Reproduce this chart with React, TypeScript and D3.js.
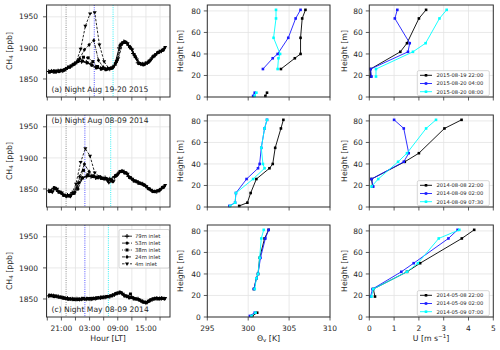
import React from 'react';
import * as d3 from 'd3';

const FONT = 'DejaVu Sans, sans-serif';
const SPINE = '#333333';
const GRID = '#e3e3e3';
const INK = '#262626';

// sampling cycle: hours after 18:00 LT, each inlet lagged within the cycle
const SAMPLE_HOURS = [0.3, 1.3, 2.3, 3.3, 4.3, 5.3, 6.3, 7.3, 8.3, 9.3, 10.3, 11.3, 12.3, 13.3, 14.3, 15.3, 16.3, 17.3, 18.3, 19.3, 20.3, 21.3, 22.3, 23.3, 24.3];
const INLETS = ['79m inlet', '53m inlet', '38m inlet', '24m inlet', '4m inlet'];
const INLET_LAG = [0, 0.2, 0.4, 0.6, 0.8];

// (a) Aug 19-20 2015
const CH4_A_79 = [1862, 1862, 1863, 1863, 1868, 1872, 1877, 1878, 1877, 1874, 1869, 1867, 1866, 1866, 1872, 1900, 1910, 1904, 1891, 1876, 1874, 1876, 1884, 1891, 1895];
const CH4_A_53 = [1861, 1863, 1862, 1864, 1869, 1873, 1878, 1879, 1876, 1872, 1868, 1866, 1865, 1867, 1875, 1904, 1910, 1902, 1889, 1875, 1873, 1877, 1886, 1892, 1896];
const CH4_A_38 = [1862, 1861, 1863, 1865, 1869, 1874, 1880, 1885, 1884, 1878, 1870, 1867, 1866, 1868, 1878, 1906, 1909, 1900, 1886, 1875, 1874, 1879, 1887, 1893, 1897];
const CH4_A_24 = [1863, 1862, 1864, 1866, 1870, 1875, 1883, 1897, 1905, 1912, 1880, 1869, 1867, 1868, 1880, 1907, 1908, 1899, 1884, 1874, 1875, 1880, 1888, 1894, 1899];
const CH4_A_4 = [1862, 1863, 1864, 1867, 1871, 1876, 1898, 1935, 1955, 1957, 1905, 1878, 1867, 1869, 1883, 1908, 1907, 1897, 1881, 1874, 1876, 1881, 1889, 1895, 1901];

// (b) Aug 08-09 2014
const CH4_B_79 = [1847, 1851, 1846, 1841, 1840, 1844, 1853, 1866, 1870, 1870, 1868, 1868, 1868, 1866, 1870, 1877, 1877, 1870, 1864, 1860, 1858, 1852, 1847, 1846, 1851];
const CH4_B_53 = [1846, 1852, 1845, 1840, 1839, 1843, 1850, 1868, 1871, 1871, 1869, 1868, 1867, 1865, 1871, 1878, 1876, 1869, 1863, 1860, 1857, 1851, 1846, 1847, 1852];
const CH4_B_38 = [1847, 1851, 1845, 1840, 1839, 1843, 1860, 1880, 1873, 1870, 1868, 1867, 1866, 1864, 1872, 1878, 1876, 1868, 1863, 1859, 1856, 1850, 1846, 1847, 1853];
const CH4_B_24 = [1846, 1850, 1844, 1839, 1838, 1845, 1870, 1890, 1878, 1871, 1869, 1867, 1863, 1862, 1873, 1879, 1875, 1867, 1862, 1859, 1855, 1849, 1846, 1848, 1854];
const CH4_B_4 = [1845, 1850, 1844, 1838, 1840, 1858, 1893, 1915, 1903, 1876, 1870, 1866, 1860, 1862, 1874, 1879, 1874, 1866, 1862, 1858, 1854, 1848, 1846, 1849, 1856];

// (c) May 08-09 2014
const CH4_C_79 = [1855, 1855, 1854, 1852, 1851, 1850, 1850, 1850, 1850, 1850, 1851, 1852, 1853, 1854, 1857, 1860, 1856, 1853, 1851, 1850, 1846, 1845, 1849, 1851, 1851];
const CH4_C_53 = [1856, 1854, 1853, 1852, 1850, 1850, 1849, 1850, 1851, 1850, 1851, 1853, 1853, 1855, 1858, 1861, 1855, 1852, 1851, 1849, 1845, 1846, 1850, 1851, 1851];
const CH4_C_38 = [1855, 1855, 1853, 1851, 1850, 1849, 1850, 1851, 1850, 1851, 1852, 1852, 1854, 1855, 1859, 1860, 1855, 1858, 1850, 1848, 1845, 1847, 1850, 1850, 1851];
const CH4_C_24 = [1856, 1854, 1853, 1851, 1850, 1850, 1849, 1850, 1850, 1851, 1852, 1853, 1854, 1856, 1859, 1859, 1854, 1853, 1850, 1847, 1844, 1848, 1851, 1851, 1850];
const CH4_C_4 = [1855, 1854, 1852, 1851, 1850, 1849, 1850, 1850, 1851, 1851, 1852, 1853, 1854, 1857, 1860, 1858, 1854, 1852, 1850, 1846, 1844, 1849, 1851, 1851, 1851];

const PANEL_TITLES = ['(a) Night Aug 19-20 2015', '(b) Night Aug 08-09 2014', '(c) Night May 08-09 2014'];
// profile times, hours after 18:00 LT
const PROFILE_HOURS_A = [4, 10, 14];
const PROFILE_HOURS_B = [4, 8, 13.5];
const PROFILE_HOURS_C = [4, 8, 13];
const PROFILE_LABELS_A = ['2015-08-19 22:00', '2015-08-20 04:00', '2015-08-20 08:00'];
const PROFILE_LABELS_B = ['2014-08-08 22:00', '2014-08-09 02:00', '2014-08-09 07:30'];
const PROFILE_LABELS_C = ['2014-05-08 22:00', '2014-05-09 02:00', '2014-05-09 07:00'];

// virtual potential temperature profiles [K]
const THETA_HEIGHTS = [1, 4, 13, 26, 36, 40, 55, 73, 81];
const THETA_A_1 = [302.1, 302.3, null, 304.0, 305.7, 306.4, 306.4, 306.6, 307.0];
const THETA_A_2 = [300.6, 300.8, null, 301.8, 303.0, 303.6, 304.9, 305.8, 306.4];
const THETA_A_3 = [300.8, 301.0, null, 303.6, 303.7, 303.9, 303.1, 303.4, 303.4];
const THETA_B_1 = [298.9, 299.9, 300.3, 301.0, 302.6, 303.0, 303.3, 304.0, 304.3];
const THETA_B_2 = [297.7, 298.4, 298.5, 299.8, 301.2, 301.4, 301.6, 302.0, 302.3];
const THETA_B_3 = [297.8, 298.4, 298.5, 300.6, 302.0, 301.8, 301.6, 302.0, 302.3];
const THETA_C_1 = [300.5, 301.1, null, 300.7, 301.0, 301.2, 301.4, 302.0, 302.5];
const THETA_C_2 = [300.2, 300.8, null, 300.7, 301.0, 301.2, 301.5, 302.1, 302.5];
const THETA_C_3 = [300.4, 300.9, null, 300.8, 301.0, 301.2, 301.4, 301.6, 301.9];

// wind speed profiles [m/s]
const U_HEIGHTS = [19, 26, 42, 50, 73, 81];
const U_A_1 = [0.05, 0.05, 1.25, 1.52, 2.0, 2.29];
const U_A_2 = [0.09, 0.05, 1.56, 1.63, 1.03, 1.13];
const U_A_3 = [0.27, 0.27, 1.76, 2.27, 2.83, 3.12];
const U_B_1 = [0.13, 0.09, 1.43, 2.0, 3.03, 3.72];
const U_B_2 = [0.16, 0.09, 1.39, 1.59, 1.39, 1.0];
const U_B_3 = [0.09, 0.36, 1.16, 1.52, 2.29, 2.69];
const U_C_1 = [0.23, 0.16, 1.52, 2.05, 3.73, 4.23];
const U_C_2 = [0.05, 0.13, 1.29, 1.79, 3.19, 3.56];
const U_C_3 = [0.09, 0.16, 1.52, 1.96, 2.8, 3.63];

const HOUR_TICKS = [0, 3, 6, 9, 12, 15, 18, 21, 24];
const CH4_TICKS = [1850, 1900, 1950];
const HEIGHT_TICKS = [0, 20, 40, 60, 80];
const THETA_TICKS = [295, 300, 305, 310];
const U_TICKS = [0, 1, 2, 3, 4, 5];

const PROFILE_COLORS = ['#000000', '#1a1aff', '#00ffff'];
const MARK_COLORS = ['#8c8c8c', '#5555ff', '#33f0f5'];
const INLET_DASH = ['none', '3,1.5', '1,1.2', '3,1,1,1', '2.5,1.5'];
const INLET_MARK = ['plus', 'circle', 'square', 'diamond', 'tri'];

const ROWS = [
  { top: 5, bottom: 97 },
  { top: 115, bottom: 207 },
  { top: 225, bottom: 317 },
];
const LEFT = { x0: 46.5, x1: 170 };
const MID = { x0: 207.3, x1: 330 };
const RIGHT = { x0: 369.3, x1: 493.3 };

const CH4_ROWS = [
  [CH4_A_79, CH4_A_53, CH4_A_38, CH4_A_24, CH4_A_4],
  [CH4_B_79, CH4_B_53, CH4_B_38, CH4_B_24, CH4_B_4],
  [CH4_C_79, CH4_C_53, CH4_C_38, CH4_C_24, CH4_C_4],
];
const MARK_ROWS = [PROFILE_HOURS_A, PROFILE_HOURS_B, PROFILE_HOURS_C];
const LABEL_ROWS = [PROFILE_LABELS_A, PROFILE_LABELS_B, PROFILE_LABELS_C];
const THETA_ROWS = [
  [THETA_A_1, THETA_A_2, THETA_A_3],
  [THETA_B_1, THETA_B_2, THETA_B_3],
  [THETA_C_1, THETA_C_2, THETA_C_3],
];
const U_ROWS = [
  [U_A_1, U_A_2, U_A_3],
  [U_B_1, U_B_2, U_B_3],
  [U_C_1, U_C_2, U_C_3],
];

const xHour = d3.scaleLinear().domain([-0.17, 26.12]).range([LEFT.x0, LEFT.x1]);
const xTheta = d3.scaleLinear().domain([295, 310]).range([MID.x0, MID.x1]);
const xU = d3.scaleLinear().domain([0, 5]).range([RIGHT.x0, RIGHT.x1]);

function clock(h: number) {
  const v = (18 + h) % 24;
  return (v < 10 ? '0' : '') + v + ':00';
}

function markerPath(kind: string) {
  if (kind === 'plus') return 'M-2.2,0H2.2M0,-2.2V2.2';
  if (kind === 'circle') return 'M1.7,0A1.7,1.7,0,1,1,-1.7,0A1.7,1.7,0,1,1,1.7,0Z';
  if (kind === 'square') return 'M-1.5,-1.5H1.5V1.5H-1.5Z';
  if (kind === 'diamond') return 'M0,-2.1L1.7,0L0,2.1L-1.7,0Z';
  return 'M-2,-1.3L2,-1.3L0,2.1Z';
}

function Marker({ kind, x, y, color }: { kind: string; x: number; y: number; color: string }) {
  const d = markerPath(kind);
  if (kind === 'plus') return <path d={d} transform={`translate(${x},${y})`} stroke={color} strokeWidth={1} fill="none" />;
  return <path d={d} transform={`translate(${x},${y})`} fill={color} />;
}

function YTicks({ x0, scale, ticks, gap }: { x0: number; scale: any; ticks: number[]; gap: number }) {
  return (
    <g>
      {ticks.map((t) => (
        <g key={t}>
          <line x1={x0 - 3.5} x2={x0} y1={scale(t)} y2={scale(t)} stroke={SPINE} strokeWidth={0.8} />
          <text x={x0 - gap} y={scale(t)} dy="0.35em" textAnchor="end" fontSize={7.5} fill={INK}>{t}</text>
        </g>
      ))}
    </g>
  );
}

function XTicks({ row, scale, ticks, labels }: { row: any; scale: any; ticks: number[]; labels: (string | null)[] | null }) {
  return (
    <g>
      {ticks.map((t, i) => (
        <g key={t}>
          <line x1={scale(t)} x2={scale(t)} y1={row.bottom} y2={row.bottom + 3.5} stroke={SPINE} strokeWidth={0.8} />
          {labels && labels[i] != null && (
            <text x={scale(t)} y={row.bottom + 13.5} textAnchor="middle" fontSize={7.5} fill={INK}>{labels[i]}</text>
          )}
        </g>
      ))}
    </g>
  );
}

function Ch4Panel({ r }: { r: number }) {
  const row = ROWS[r];
  const y = d3.scaleLinear().domain([1821, 1969]).range([row.bottom, row.top]);
  const series = CH4_ROWS[r];
  const line = d3.line<[number, number]>().x((d) => xHour(d[0])).y((d) => y(d[1]));
  const last = r === 2;
  const cy = (row.top + row.bottom) / 2;
  return (
    <g>
      {HOUR_TICKS.map((t) => (
        <line key={'gx' + t} x1={xHour(t)} x2={xHour(t)} y1={row.top} y2={row.bottom} stroke={GRID} strokeWidth={0.8} />
      ))}
      {CH4_TICKS.map((t) => (
        <line key={'gy' + t} x1={LEFT.x0} x2={LEFT.x1} y1={y(t)} y2={y(t)} stroke={GRID} strokeWidth={0.8} />
      ))}
      {MARK_ROWS[r].map((h, i) => (
        <line key={'m' + i} x1={xHour(h)} x2={xHour(h)} y1={row.top} y2={row.bottom} stroke={MARK_COLORS[i]} strokeWidth={1} strokeDasharray="1,1.2" />
      ))}
      {series.map((vals, i) => {
        const pts: [number, number][] = vals.map((v, k) => [SAMPLE_HOURS[k] + INLET_LAG[i], v]);
        return (
          <g key={'s' + i}>
            <path d={line(pts) || ''} fill="none" stroke="#000" strokeWidth={0.85} strokeDasharray={INLET_DASH[i]} />
            {pts.map((p, k) => (
              <Marker key={k} kind={INLET_MARK[i]} x={xHour(p[0])} y={y(p[1])} color="#000" />
            ))}
          </g>
        );
      })}
      <text x={51.5} y={r === 1 ? row.top + 8 : row.bottom - 5.5} fontSize={7.6} fill={INK}>{PANEL_TITLES[r]}</text>
      {last && (
        <g>
          <rect x={119} y={229.5} width={50.5} height={38.5} rx={1.5} fill="#fff" fillOpacity={0.85} stroke="#cccccc" strokeWidth={0.8} />
          {INLETS.map((name, i) => {
            const ly = 236.2 + i * 6.9;
            return (
              <g key={name}>
                <line x1={122} x2={132} y1={ly} y2={ly} stroke="#000" strokeWidth={0.8} strokeDasharray={INLET_DASH[i]} />
                <Marker kind={INLET_MARK[i]} x={127} y={ly} color="#000" />
                <text x={135} y={ly} dy="0.35em" fontSize={5.3} fill={INK}>{name}</text>
              </g>
            );
          })}
        </g>
      )}
      <rect x={LEFT.x0} y={row.top} width={LEFT.x1 - LEFT.x0} height={row.bottom - row.top} fill="none" stroke={SPINE} strokeWidth={1} />
      <YTicks x0={LEFT.x0} scale={y} ticks={CH4_TICKS} gap={8.5} />
      <XTicks row={row} scale={xHour} ticks={HOUR_TICKS} labels={last ? HOUR_TICKS.map((h) => (h % 6 === 3 ? clock(h) : null)) : null} />
      <text transform={`translate(11.5,${cy}) rotate(-90)`} textAnchor="middle" fontSize={7.8} fill={INK}>
        CH<tspan fontSize={5.5} dy={1.8}>4</tspan><tspan dy={-1.8}> [ppb]</tspan>
      </text>
    </g>
  );
}

function ProfilePanel({ r, kind }: { r: number; kind: 'theta' | 'u' }) {
  const row = ROWS[r];
  const box = kind === 'theta' ? MID : RIGHT;
  const x = kind === 'theta' ? xTheta : xU;
  const heights = kind === 'theta' ? THETA_HEIGHTS : U_HEIGHTS;
  const series = kind === 'theta' ? THETA_ROWS[r] : U_ROWS[r];
  const ticks = kind === 'theta' ? THETA_TICKS : U_TICKS;
  const y = d3.scaleLinear().domain([0, 85.5]).range([row.bottom, row.top]);
  const line = d3
    .line<number | null>()
    .defined((d) => d != null)
    .x((d) => x(d as number))
    .y((_d, i) => y(heights[i]));
  const last = r === 2;
  const cy = (row.top + row.bottom) / 2;
  const labelX = kind === 'theta' ? 183 : 347;
  const ly0 = row.top + 66;
  return (
    <g>
      {ticks.map((t) => (
        <line key={'gx' + t} x1={x(t)} x2={x(t)} y1={row.top} y2={row.bottom} stroke={GRID} strokeWidth={0.8} />
      ))}
      {HEIGHT_TICKS.map((t) => (
        <line key={'gy' + t} x1={box.x0} x2={box.x1} y1={y(t)} y2={y(t)} stroke={GRID} strokeWidth={0.8} />
      ))}
      {series.map((vals, i) => (
        <g key={i}>
          <path d={line(vals) || ''} fill="none" stroke={PROFILE_COLORS[i]} strokeWidth={0.9} />
          {vals.map((v, k) =>
            v == null ? null : (
              <rect key={k} x={x(v) - 1.3} y={y(heights[k]) - 1.3} width={2.6} height={2.6} fill={PROFILE_COLORS[i]} />
            )
          )}
        </g>
      ))}
      {kind === 'u' && (
        <g>
          <rect x={417.3} y={ly0 - 0.3} width={72} height={25} rx={1.5} fill="#fff" fillOpacity={0.85} stroke="#cccccc" strokeWidth={0.8} />
          {LABEL_ROWS[r].map((name, i) => {
            const yy = ly0 + 4.3 + i * 8.2;
            return (
              <g key={name}>
                <line x1={420} x2={432} y1={yy} y2={yy} stroke={PROFILE_COLORS[i]} strokeWidth={0.9} />
                <rect x={424.7} y={yy - 1.3} width={2.6} height={2.6} fill={PROFILE_COLORS[i]} />
                <text x={436.5} y={yy} dy="0.35em" fontSize={5.2} fill={INK}>{name}</text>
              </g>
            );
          })}
        </g>
      )}
      <rect x={box.x0} y={row.top} width={box.x1 - box.x0} height={row.bottom - row.top} fill="none" stroke={SPINE} strokeWidth={1} />
      <YTicks x0={box.x0} scale={y} ticks={HEIGHT_TICKS} gap={6.5} />
      <XTicks row={row} scale={x} ticks={ticks} labels={last ? ticks.map(String) : null} />
      <text transform={`translate(${labelX},${cy}) rotate(-90)`} textAnchor="middle" fontSize={7.8} fill={INK}>Height [m]</text>
    </g>
  );
}

export default function App() {
  return (
    <svg width={500} height={350} fontFamily={FONT} style={{ position: 'absolute', left: 0, top: 0, background: '#fff' }}>
      <rect width={500} height={350} fill="#fff" />
      {ROWS.map((_row, r) => (
        <g key={r}>
          <Ch4Panel r={r} />
          <ProfilePanel r={r} kind="theta" />
          <ProfilePanel r={r} kind="u" />
        </g>
      ))}
      <text x={108} y={340.5} textAnchor="middle" fontSize={7.8} fill={INK}>Hour [LT]</text>
      <text x={268.5} y={340.5} textAnchor="middle" fontSize={7.8} fill={INK}>
        Θ<tspan fontSize={5.5} dy={1.8}>v</tspan><tspan dy={-1.8}> [K]</tspan>
      </text>
      <text x={431} y={340.5} textAnchor="middle" fontSize={7.8} fill={INK}>
        U [m s<tspan fontSize={5.5} dy={-3}>−1</tspan><tspan dy={3}>]</tspan>
      </text>
    </svg>
  );
}
